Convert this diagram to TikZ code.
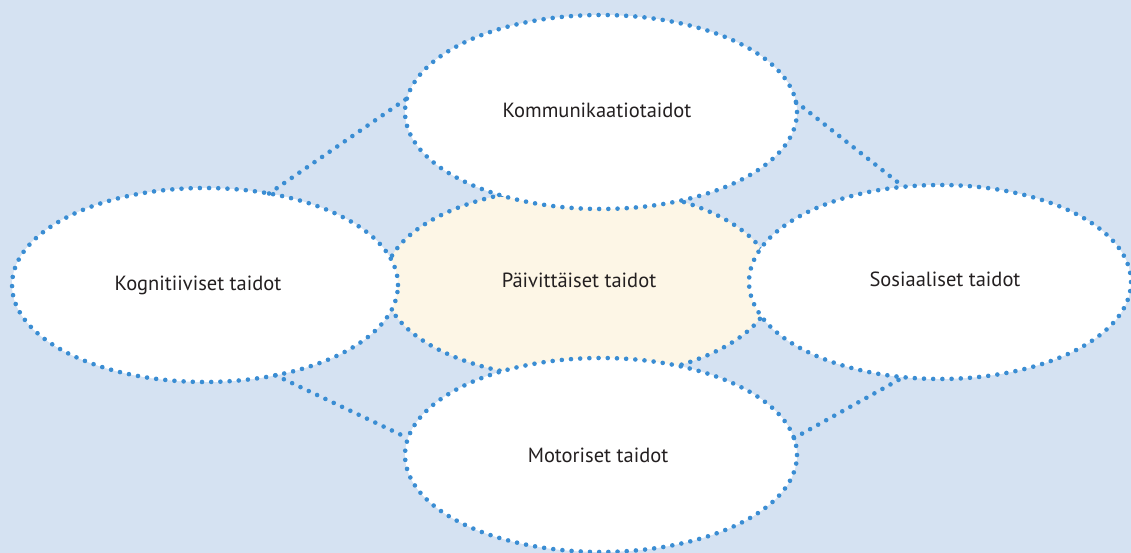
\documentclass[tikz,border=0pt]{standalone}
\usepackage{fontspec}
\setmainfont{PT Sans}
\usetikzlibrary{shapes.geometric}
\definecolor{bg}{HTML}{D5E2F2}
\definecolor{cream}{HTML}{FDF6E6}
\definecolor{dotblue}{HTML}{3A8DD3}
\definecolor{txt}{HTML}{231F20}
\tikzset{
  dotline/.style={draw=dotblue, line width=4.6pt, line cap=round, dash pattern=on 0pt off 9.2pt},
  oval/.style={ellipse, dotline, fill=white, inner sep=0pt, outer sep=0pt, minimum width=392pt, minimum height=194pt},
  lbl/.style={font=\fontsize{20.5}{24}\selectfont, text=txt, inner sep=0pt}
}
\begin{document}
\begin{tikzpicture}[x=1pt,y=1pt]
\fill[bg] (0,0) rectangle (1131,553);
\useasboundingbox (0,0) rectangle (1131,553);
% center
\node[oval, fill=cream, minimum width=390pt, minimum height=192pt] (c) at (579,270) {};
% outer ellipses
\node[oval] (t) at (601,441) {};
\node[oval] (b) at (601,98) {};
\node[oval, minimum width=386pt] (l) at (205,268) {};
\node[oval, minimum width=382pt] (r) at (940,271) {};
% connectors
\draw[dotline] (l.55) -- (t.176);
\draw[dotline] (t.3) -- (r.111);
\draw[dotline] (b.5) -- (r.249);
\draw[dotline] (l.308) -- (b.175);
% labels
\node[lbl] (tc) at (597,443) {Kommunikaatiotaidot};
\node[lbl] (tl) at (198,268) {Kognitiiviset taidot};
\node[lbl] (tm) at (579,273) {Päivittäiset taidot};
\node[lbl] (tr) at (945,274) {Sosiaaliset taidot};
\node[lbl] (tb) at (598,98) {Motoriset taidot};
\end{tikzpicture}
\end{document}
